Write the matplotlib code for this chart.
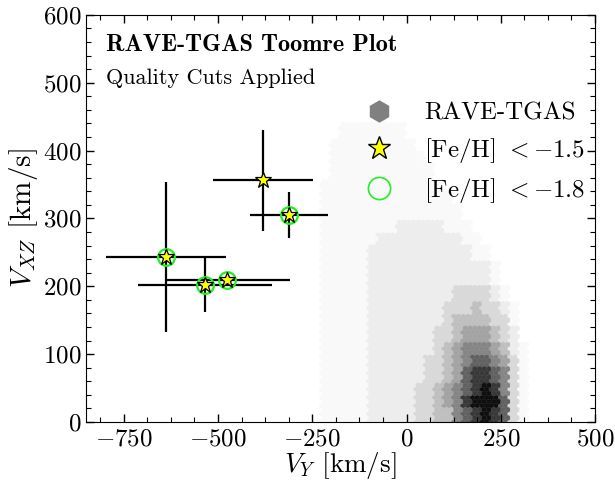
import numpy as np
import matplotlib
matplotlib.use("Agg")
import matplotlib.pyplot as plt
from matplotlib.lines import Line2D
from matplotlib.colors import ListedColormap
from matplotlib.ticker import MultipleLocator

plt.rcParams['font.family'] = 'serif'
plt.rcParams['font.serif'] = ['cmr10']
plt.rcParams['mathtext.fontset'] = 'cm'
plt.rcParams['axes.formatter.use_mathtext'] = True
plt.rcParams['axes.unicode_minus'] = True

# metal-poor stars: velocities and errors (km/s)
vy = [-381, -311, -638, -534, -475]
vxz = [356, 305, 243, 202, 209]
vy_err = [132, 104, 159, 178, 166]
vxz_err = [74, 34, 110, 40, 6]
below_18 = [False, True, True, True, True]   # [Fe/H] < -1.8

# RAVE-TGAS density, shade level 0-9 per 25 x 20 km/s cell
# columns: V_Y from -350 to 375, rows: V_XZ from 460 (top) down to 0
dens_vy0, dens_dvy = -350, 25
dens_dvxz = 20
dens_rows = [
    "00000000000100000000000000000",
    "00000001111111000000000000000",
    "00000011111111100000000000000",
    "00000011111111110000000000000",
    "00000011111111111000000000000",
    "00000111111111111100000000000",
    "00000111111111111110000000000",
    "00000111111111111111000000000",
    "00000111111112222211100000000",
    "00000111111222222222110000000",
    "00000111112222222222211000000",
    "00000111112222222222222100000",
    "00000111112222222222222100000",
    "00000111112222222223333210000",
    "00000111112222222233343321000",
    "00000111112222222234444331000",
    "00000111112222222334555432000",
    "00000111112222222345666542100",
    "00000111112222223345677653100",
    "00000111112222223345788763100",
    "00000111112222233456789863100",
    "00000111112222233456899973100",
    "00000111112222233446789873100",
]
dens = np.array([[int(c) for c in r] for r in dens_rows])[::-1]

# grey for each shade level 1..9
level_grey = [0.975, 0.93, 0.85, 0.75, 0.64, 0.52, 0.38, 0.22, 0.06]
greys = ListedColormap([(g, g, g) for g in level_grey])

# hexbin lattice centres, each takes the level of the cell it falls in
ext = (-400, 400, 0, 480)
nx, ny = 64, 40
sx = (ext[1] - ext[0]) / nx
sy = (ext[3] - ext[2]) / ny
i1, j1 = np.meshgrid(np.arange(nx + 1), np.arange(ny + 1))
i2, j2 = np.meshgrid(np.arange(nx) + 0.5, np.arange(ny) + 0.5)
hx = np.concatenate([i1.ravel(), i2.ravel()]) * sx + ext[0]
hy = np.concatenate([j1.ravel(), j2.ravel()]) * sy + ext[2]
ci = np.floor((hx - dens_vy0) / dens_dvy).astype(int)
ri = np.floor(hy / dens_dvxz).astype(int)
ok = (ci >= 0) & (ci < dens.shape[1]) & (ri >= 0) & (ri < dens.shape[0])
lev = np.zeros(hx.size)
lev[ok] = dens[ri[ok], ci[ok]]
keep = lev > 0

fig = plt.figure(figsize=(6.15, 4.8), dpi=100)
ax = fig.add_axes([0.14, 0.121, 0.8275, 0.848])

ax.hexbin(hx[keep], hy[keep], C=lev[keep], gridsize=(nx, ny), extent=ext,
          reduce_C_function=np.max, cmap=greys, vmin=0.5, vmax=9.5,
          linewidths=0.3, zorder=1)

ax.errorbar(vy, vxz, xerr=vy_err, yerr=vxz_err, fmt='none', ecolor='k',
            elinewidth=1.6, capsize=0, zorder=2)
ax.plot(vy, vxz, ls='none', marker='*', ms=12, mfc='yellow', mec='k',
        mew=0.9, zorder=4)
vy_mp = [v for v, f in zip(vy, below_18) if f]
vxz_mp = [v for v, f in zip(vxz, below_18) if f]
ax.plot(vy_mp, vxz_mp, ls='none', marker='o', ms=12, mfc='none',
        mec='#22ee22', mew=1.6, zorder=3)

ax.set_xlim(-850, 500)
ax.set_ylim(0, 600)
ax.xaxis.set_major_locator(MultipleLocator(250))
ax.xaxis.set_minor_locator(MultipleLocator(62.5))
ax.yaxis.set_major_locator(MultipleLocator(100))
ax.yaxis.set_minor_locator(MultipleLocator(20))
ax.tick_params(which='both', direction='in', top=True, right=True,
               labelsize=18)
ax.tick_params(which='major', length=6, width=1)
ax.tick_params(which='minor', length=3.5, width=0.8)
ax.tick_params(axis='x', pad=5)

ax.set_xlabel(r'$V_Y$ [km/s]', fontsize=19.5, labelpad=-1)
ax.set_ylabel(r'$V_{XZ}$ [km/s]', fontsize=21, labelpad=2)

ax.text(0.039, 0.926, 'RAVE-TGAS Toomre Plot', transform=ax.transAxes,
        fontsize=17.5, fontfamily='cmb10', va='center', ha='left')
ax.text(0.039, 0.845, 'Quality Cuts Applied', transform=ax.transAxes,
        fontsize=16, va='center', ha='left')

handles = [
    Line2D([], [], ls='none', marker='h', ms=15, mfc='grey', mec='grey'),
    Line2D([], [], ls='none', marker='*', ms=17, mfc='yellow', mec='k',
           mew=1.0),
    Line2D([], [], ls='none', marker='o', ms=16, mfc='none', mec='#22ee22',
           mew=1.2),
]
labels = ['RAVE-TGAS', r'[Fe/H] $<-1.5$', r'[Fe/H] $<-1.8$']
ax.legend(handles, labels, loc='upper right', bbox_to_anchor=(1.0, 0.81),
          borderaxespad=0, frameon=False, fontsize=18, labelspacing=0.45,
          handletextpad=0.8)

fig.savefig('out.png', dpi=100)
